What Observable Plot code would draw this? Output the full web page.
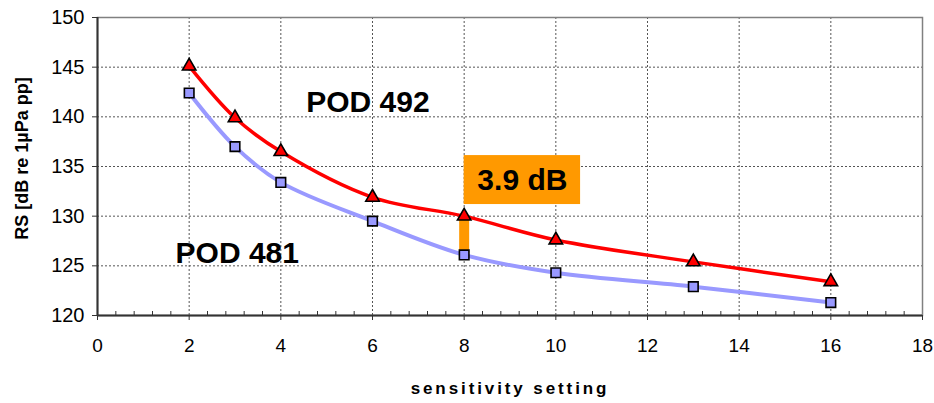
<!DOCTYPE html>
<html>
<head>
<meta charset="utf-8">
<script src="https://cdn.jsdelivr.net/npm/d3@7"></script>
<script src="https://cdn.jsdelivr.net/npm/@observablehq/plot@0.6"></script>
<style>
  html, body { margin: 0; padding: 0; background: #fff; }
  #chart { width: 934px; height: 403px; }
  svg { font-family: "Liberation Sans", Arial, sans-serif; }
</style>
</head>
<body>
<div id="chart"></div>
<script>
// Data
const settings = [2, 3, 4, 6, 8, 10, 13, 16];
const pod492 = [145.1, 139.9, 136.5, 131.9, 130.0, 127.6, 125.4, 123.4];
const pod481 = [142.4, 137.0, 133.4, 129.5, 126.1, 124.3, 122.9, 121.3];
const xTicks = [0, 2, 4, 6, 8, 10, 12, 14, 16, 18];
const xMinorTicks = d3.range(0, 18.001, 0.4).filter(v => Math.abs(v / 2 - Math.round(v / 2)) > 1e-6);
const yTicks = [120, 125, 130, 135, 140, 145, 150];
const seriesLabels = [
  {text: "POD 492", x: 5.9, y: 141.5},
  {text: "POD 481", x: 3.05, y: 126.3}
];
const diffArrow = [{x: 8, y1: 126.3, y2: 129.8}];
const diffBox = [{x1: 8.0, x2: 10.54, y1: 131.17, y2: 136.1, text: "3.9 dB"}];

const rows492 = settings.map((s, i) => ({x: s, y: pod492[i]}));
const rows481 = settings.map((s, i) => ({x: s, y: pod481[i]}));

const red = "#ff0000", blue = "#9999ff", orange = "#ff9900";

const plot = Plot.plot({
  width: 934,
  height: 403,
  marginLeft: 97,
  marginRight: 12,
  marginTop: 17,
  marginBottom: 88,
  x: {domain: [0, 18]},
  y: {domain: [120, 150]},
  style: {fontFamily: "'Liberation Sans', Arial, sans-serif", background: "#fff"},
  marks: [
    Plot.gridX(xTicks.filter(v => v > 0 && v < 18), {stroke: "#555", strokeOpacity: 1, strokeDasharray: "2,2"}),
    Plot.gridY(yTicks.filter(v => v > 120 && v < 150), {stroke: "#555", strokeOpacity: 1, strokeDasharray: "2,2"}),
    Plot.frame({stroke: "#808080", strokeWidth: 1.5}),
    Plot.axisY({ticks: yTicks, tickSize: 5, tickPadding: 8, fontSize: 20, label: null, stroke: "#333"}),
    Plot.axisX({ticks: xTicks, tickSize: 5, tickPadding: 18, fontSize: 19, label: null, stroke: "#333"}),
    Plot.axisX({ticks: xMinorTicks, tickSize: -4, text: null, label: null, stroke: "#333"}),
    Plot.ruleX([0], {stroke: "#333", strokeWidth: 2}),
    Plot.ruleY([120], {stroke: "#333", strokeWidth: 2}),
    Plot.ruleX(diffArrow, {x: "x", y1: "y1", y2: "y2", stroke: orange, strokeWidth: 10}),
    Plot.line(rows481, {x: "x", y: "y", stroke: blue, strokeWidth: 4, curve: "catmull-rom"}),
    Plot.line(rows492, {x: "x", y: "y", stroke: red, strokeWidth: 3.5, curve: "catmull-rom"}),
    Plot.dot(rows481, {x: "x", y: "y", symbol: "square", r: 5.4, fill: blue, stroke: "#000", strokeWidth: 1.6}),
    Plot.dot(rows492, {x: "x", y: "y", symbol: "triangle", r: 5, fill: red, stroke: "#000", strokeWidth: 1.6}),
    Plot.rect(diffBox, {x1: "x1", x2: "x2", y1: "y1", y2: "y2", fill: orange}),
    Plot.text(diffBox, {x: d => (d.x1 + d.x2) / 2, y: d => (d.y1 + d.y2) / 2, text: "text", fontSize: 30, fontWeight: "bold", fill: "#000"}),
    Plot.text(seriesLabels, {x: "x", y: "y", text: "text", fontSize: 30, fontWeight: "bold", fill: "#000"}),
    Plot.text(["RS [dB re 1µPa pp]"], {frameAnchor: "left", textAnchor: "middle", dx: -75, dy: -8, rotate: -90, fontSize: 18, fontWeight: "bold", fill: "#000"}),
    Plot.text(["sensitivity setting"], {frameAnchor: "bottom", dy: 78, fontSize: 17, fontWeight: "bold", fill: "#000"})
  ]
});

d3.select(plot).selectAll("text").each(function() {
  const t = this.textContent;
  if (t === "sensitivity setting") this.setAttribute("letter-spacing", "2.9px");
});

document.getElementById("chart").appendChild(plot);
</script>
</body>
</html>
